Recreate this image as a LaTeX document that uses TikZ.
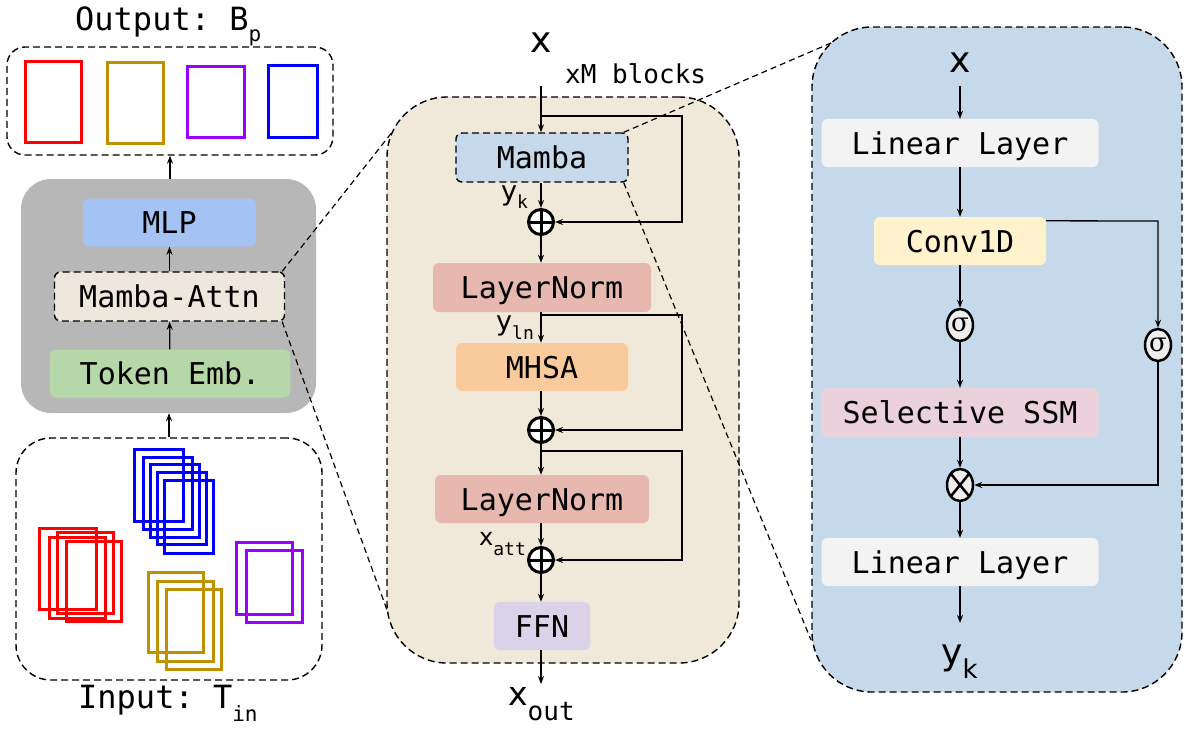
\documentclass[tikz,border=0pt]{standalone}
\usepackage{fontspec}
\setmainfont{DejaVu Sans}
\setmonofont{DejaVu Sans Mono}
\newfontfamily\sigfont{DejaVu Serif}
\usetikzlibrary{arrows.meta,shapes.geometric,calc}
\definecolor{graybg}{HTML}{B7B7B7}
\definecolor{mlpc}{HTML}{A4C2F4}
\definecolor{mac}{HTML}{EEE8DC}
\definecolor{tokc}{HTML}{B6D7A8}
\definecolor{midbg}{HTML}{F0E8D8}
\definecolor{rightbg}{HTML}{C6D9EA}
\definecolor{mambac}{HTML}{C6D9EA}
\definecolor{lnc}{HTML}{E6B8AF}
\definecolor{mhsac}{HTML}{F9CB9C}
\definecolor{ffnc}{HTML}{D9D2E9}
\definecolor{linc}{HTML}{F3F3F3}
\definecolor{convc}{HTML}{FFF2CC}
\definecolor{ssmc}{HTML}{EAD1DC}
\definecolor{sigc}{HTML}{EEEEEE}
\definecolor{bred}{HTML}{FF0000}
\definecolor{bgold}{HTML}{BF9000}
\definecolor{bpurple}{HTML}{9900FF}
\definecolor{bblue}{HTML}{0000FF}
\begin{document}
\begin{tikzpicture}[x=1pt,y=-1pt,
  box/.style={rectangle, rounded corners=6pt, inner sep=0pt, minimum height=48pt,
    text height=22pt, text depth=0pt,
    font=\fontsize{30}{36}\selectfont\ttfamily},
  dashln/.style={dash pattern=on 7pt off 4pt, line width=1.4pt},
  zoomln/.style={dash pattern=on 6pt off 4pt, line width=1.2pt},
  arr/.style={line width=1.3pt, -{Stealth[length=8pt,width=6pt]}},
  panel/.style={rectangle, draw, dashln, inner sep=0pt},
  bbox/.style={line width=3pt},
  plusn/.style={circle, draw, line width=3pt, fill=white, minimum size=25pt, inner sep=0pt,
    path picture={\draw[line width=3pt] (path picture bounding box.north) -- (path picture bounding box.south)
      (path picture bounding box.west) -- (path picture bounding box.east);}},
  sign/.style={ellipse, draw, line width=2.5pt, fill=sigc, minimum width=26pt, minimum height=32pt, inner sep=0pt,
    font=\fontsize{26}{28}\selectfont\sigfont},
  timesn/.style={ellipse, draw, line width=2.5pt, fill=sigc, minimum width=26pt, minimum height=32pt, inner sep=0pt,
    path picture={\draw[line width=2.5pt] (path picture bounding box.north west) -- (path picture bounding box.south east)
      (path picture bounding box.north east) -- (path picture bounding box.south west);}},
  ttl/.style={font=\fontsize{32}{36}\selectfont\ttfamily, inner sep=0pt},
  lbl/.style={inner sep=0pt}
]
\useasboundingbox (0,0) rectangle (1185,729);

% ---------------- panels
\node[panel, fill=midbg, rounded corners=60pt, minimum width=352pt, minimum height=566pt] (mid) at (563,380) {};
\node[panel, fill=rightbg, rounded corners=60pt, minimum width=370pt, minimum height=665pt] (right) at (997,359.5) {};
\node[rectangle, fill=graybg, rounded corners=30pt, minimum width=295pt, minimum height=234pt, inner sep=0pt] (gray) at (168.5,296) {};
\node[panel, rounded corners=18pt, minimum width=326pt, minimum height=108pt] (outbox) at (170,101) {};
\node[panel, rounded corners=35pt, minimum width=306pt, minimum height=242pt] (inbox) at (169,559) {};

% ---------------- zoom line end points
\coordinate (midTL) at (393,131);
\coordinate (midBL) at (387,610);
\coordinate (rTL) at (831,43);
\coordinate (rBL) at (811,640);

% ---------------- left column
\node[box, fill=mlpc, minimum width=173pt] (mlp) at (169.5,222.5) {MLP};
\node[box, fill=mac, draw, dashln, minimum width=230pt, minimum height=49pt] (ma) at (169.5,296.5) {Mamba-Attn};
\node[box, fill=tokc, minimum width=240pt] (tok) at (170,373.5) {Token Emb.};
\draw[arr] (tok) -- (ma);
\draw[arr] (ma) -- (mlp);
\draw[arr] (gray.north -| outbox.south) -- (outbox.south);
\draw[arr] (inbox.north) -- (inbox.north |- gray.south);

\node[ttl, anchor=base west] (outlbl) at (75,30) {Output: B\raisebox{-11pt}{\fontsize{21}{24}\selectfont p}};
\node[ttl, anchor=base west] (inlbl) at (78,708) {Input: T\raisebox{-13pt}{\fontsize{21}{24}\selectfont in}};

% output boxes
\draw[bbox, bred] (25,61) rectangle (81,142);
\draw[bbox, bgold] (107,62) rectangle (163,143);
\draw[bbox, bpurple] (187,66) rectangle (244,137);
\draw[bbox, bblue] (268,65) rectangle (317,137);

% input boxes
\draw[bbox, bblue] (134,449) rectangle (183,521);
\draw[bbox, bblue] (143,457) rectangle (192,529);
\draw[bbox, bblue] (150,464) rectangle (199,537);
\draw[bbox, bblue] (157,472) rectangle (206,544);
\draw[bbox, bblue] (164,480) rectangle (213,553);
\draw[bbox, bred] (39,528) rectangle (96,609);
\draw[bbox, bred] (57,532) rectangle (113,613);
\draw[bbox, bred] (49,537) rectangle (105,618);
\draw[bbox, bred] (66,541) rectangle (121,621);
\draw[bbox, bgold] (148,572) rectangle (203,652);
\draw[bbox, bgold] (157,581) rectangle (213,661);
\draw[bbox, bgold] (166,589) rectangle (221,669);
\draw[bbox, bpurple] (236,542) rectangle (292,614);
\draw[bbox, bpurple] (246,550) rectangle (302,622);

% ---------------- middle column
\node[lbl, anchor=base, font=\fontsize{36}{40}\selectfont] (xin) at (541,52) {x};
\node[lbl, anchor=base west, font=\fontsize{26}{30}\selectfont\ttfamily] (xm) at (565,83) {xM blocks};
\node[box, fill=mambac, draw, dashln, minimum width=172pt, minimum height=49pt] (mamba) at (542,157.5) {Mamba};
\node[plusn] (p1) at (541,222) {};
\node[box, fill=lnc, minimum width=218pt, minimum height=49pt] (ln1) at (542,287.5) {LayerNorm};
\node[box, fill=mhsac, minimum width=172pt] (mhsa) at (542,367) {MHSA};
\node[plusn] (p2) at (541,430) {};
\node[box, fill=lnc, minimum width=214pt] (ln2) at (542,499) {LayerNorm};
\node[plusn] (p3) at (541,560) {};
\node[box, fill=ffnc, minimum width=96pt] (ffn) at (542,626) {FFN};

\node[lbl, anchor=base west] (yk) at (501,200) {\fontsize{27}{30}\selectfont y\raisebox{-8pt}{\fontsize{18}{20}\selectfont\ttfamily k}};
\node[lbl, anchor=base west] (yln) at (496,330) {\fontsize{27}{30}\selectfont y\raisebox{-9pt}{\fontsize{18}{20}\selectfont\ttfamily ln}};
\node[lbl, anchor=base west] (xatt) at (479,545) {\fontsize{24}{30}\selectfont x\raisebox{-10pt}{\fontsize{18}{20}\selectfont\ttfamily att}};
\node[lbl, anchor=base west] (xout) at (508,705) {\fontsize{33}{36}\selectfont x\raisebox{-15pt}{\fontsize{26}{28}\selectfont\ttfamily out}};

\coordinate (xs) at (541,86);
\coordinate (s1) at (541,116);
\coordinate (s2) at (541,315);
\coordinate (s3) at (541,451);
\coordinate (xe) at (541,684);
\draw[arr] (xs) -- (mamba.north -| xs);
\draw[arr] (s1) -- (682,116) -- (682,222) -- (p1.east);
\draw[arr] (mamba.south -| p1) -- (p1);
\draw[arr] (p1) -- (ln1.north -| p1);
\draw[arr] (ln1.south -| p1) -- (mhsa.north -| p1);
\draw[arr] (s2) -- (682,315) -- (682,430) -- (p2.east);
\draw[arr] (mhsa.south -| p2) -- (p2);
\draw[arr] (p2) -- (ln2.north -| p2);
\draw[arr] (s3) -- (682,451) -- (682,560) -- (p3.east);
\draw[arr] (ln2.south -| p3) -- (p3);
\draw[arr] (p3) -- (ffn.north -| p3);
\draw[arr] (ffn.south -| xe) -- (xe);

% ---------------- right column
\node[lbl, anchor=base, font=\fontsize{36}{40}\selectfont] (xr) at (960,72) {x};
\node[box, fill=linc, minimum width=277pt] (ll1) at (960,143) {Linear Layer};
\node[box, fill=convc, minimum width=172pt] (conv) at (960,241) {Conv1D};
\node[sign] (sg1) at (960,325) {σ};
\node[sign] (sg2) at (1158,345) {σ};
\node[box, fill=ssmc, minimum width=277pt, minimum height=49pt] (ssm) at (960,412.5) {Selective SSM};
\node[timesn] (ot) at (960,485) {};
\node[box, fill=linc, minimum width=277pt] (ll2) at (960,562) {Linear Layer};
\node[lbl, anchor=base west] (ykr) at (941,664) {\fontsize{36}{40}\selectfont y\raisebox{-14pt}{\fontsize{26}{28}\selectfont k}};

\coordinate (xrs) at (960,86);
\coordinate (yre) at (960,623);
\coordinate (cr) at (1158,221);
\coordinate (orr) at (1158,485);
\draw[arr] (xrs) -- (ll1);
\draw[arr] (ll1) -- (conv);
\draw[arr] (conv) -- (sg1);
\draw[arr] (sg1) -- (ssm);
\draw[arr] (ssm) -- (ot);
\draw[arr] (ot) -- (ll2);
\draw[arr] (ll2) -- (yre);
\draw[arr] ([yshift=-4pt]conv.north east) -- (cr) -- (sg2);
\draw[arr] (sg2) -- (orr) -- (ot.east);

% ---------------- zoom connectors
\draw[zoomln] ([xshift=-3pt]ma.north east) -- (midTL);
\draw[zoomln] ([xshift=-3pt]ma.south east) -- (midBL);
\draw[zoomln] ([xshift=-5pt]mamba.north east) -- (rTL);
\draw[zoomln] ([xshift=-5pt]mamba.south east) -- (rBL);
\end{tikzpicture}
\end{document}
